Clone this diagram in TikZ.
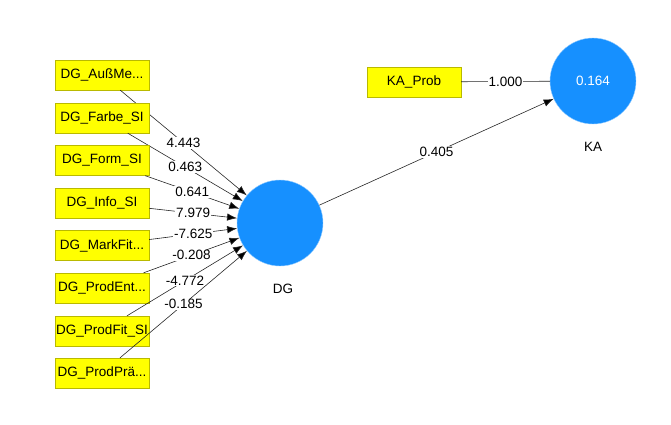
\documentclass[tikz,border=0pt]{standalone}
\usepackage{fontspec}
\setmainfont{Liberation Sans}
\usetikzlibrary{arrows.meta}
\definecolor{indyellow}{RGB}{255,255,0}
\definecolor{indedge}{RGB}{185,185,0}
\definecolor{lvblue}{RGB}{22,144,255}
\definecolor{lvedge}{RGB}{150,205,255}
% truncation mark of a long indicator name
\newcommand{\cutmark}{...}

\begin{document}
\begin{tikzpicture}[x=1pt, y=-1pt,
  % indicator (yellow box)
  ind/.style  = {draw=indedge, fill=indyellow, minimum width=94pt,
                 minimum height=30pt, inner sep=1pt,
                 font=\fontsize{13.5}{15}\selectfont},
  % latent variable (blue circle)
  lv/.style   = {circle, draw=lvedge, fill=lvblue, minimum size=86pt,
                 inner sep=0pt, text=white, font=\fontsize{13.5}{15}\selectfont},
  % caption under a latent variable
  lvname/.style = {font=\fontsize{13.5}{15}\selectfont},
  % weight / coefficient label on a link
  wt/.style   = {fill=white, inner sep=1pt, font=\fontsize{13.5}{15}\selectfont},
  % plain and arrowed links
  link/.style = {draw=black!85, line width=0.6pt},
  arr/.style  = {link, -{Latex[length=10pt,width=7.5pt,fill=black]}},
]
\useasboundingbox (0,0) rectangle (671,425);

% ─────────────────
%  latent variables
% ─────────
\node[lv] (DG) at (280,223) {};
\node[lvname] (DGname) at (283,289) {DG};

\node[lv] (KA) at (593,81) {0.164};
\node[lvname] (KAname) at (593,147) {KA};

% ─────────────────
%  formative indicators of DG
% ─────────
\foreach \i/\t/\y/\w in {1/DG\_AußMe\cutmark/75/4.443,
                         2/DG\_Farbe\_SI/118/0.463,
                         3/DG\_Form\_SI/160.5/0.641,
                         4/DG\_Info\_SI/203/7.979,
                         5/DG\_MarkFit\cutmark/245.5/-7.625,
                         6/DG\_ProdEnt\cutmark/288/-0.208,
                         7/DG\_ProdFit\_SI/331/-4.772,
                         8/DG\_ProdPrä\cutmark/373/-0.185}{
  \node[ind] (i\i) at (102,\y) {\t};
  \draw[arr] (i\i) -- node[wt] {\w} (DG);
}

% ─────────────────
%  KA indicator and path
% ─────────
\node[ind] (KAprob) at (414,82) {KA\_Prob};
\draw[link] (KAprob) -- node[wt] {1.000} (KA);

\draw[arr] (DG) -- node[wt] {0.405} (KA);

\end{tikzpicture}
\end{document}
